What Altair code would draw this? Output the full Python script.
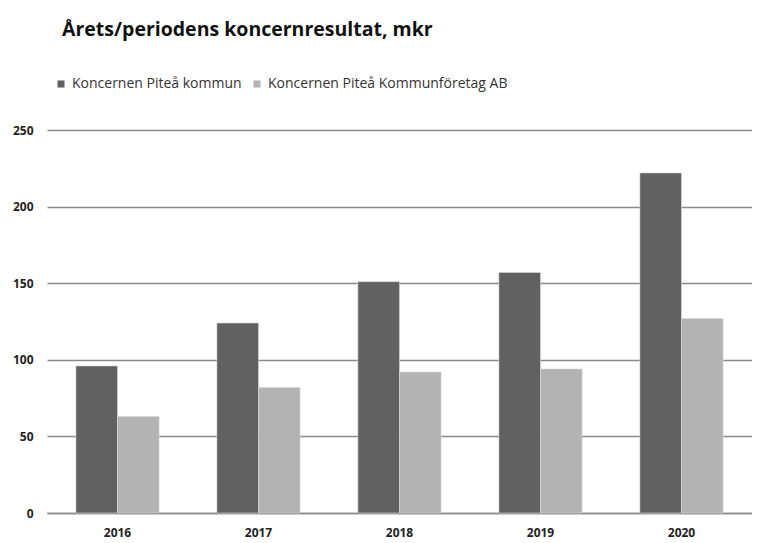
import altair as alt
import pandas as pd

years = ["2016", "2017", "2018", "2019", "2020"]
series_names = ["Koncernen Piteå kommun", "Koncernen Piteå Kommunföretag AB"]
kommun = [96, 124, 151, 157, 222]
foretag = [63, 82, 92, 94, 127]
y_ticks = [0, 50, 100, 150, 200, 250]

rows = []
for i, yr in enumerate(years):
    rows.append({"year": yr, "serie": series_names[0], "value": kommun[i]})
    rows.append({"year": yr, "serie": series_names[1], "value": foretag[i]})
df = pd.DataFrame(rows)

FONT = "Open Sans"

chart = alt.Chart(df).mark_bar(stroke="#d8d8d8", strokeWidth=0.6).encode(
    x=alt.X("year:N", sort=years, title=None,
            scale=alt.Scale(paddingInner=0.41, paddingOuter=0.205),
            axis=alt.Axis(labelAngle=0, labelPadding=14, ticks=False, domain=True,
                          domainColor="#8a8a8a", domainWidth=1.5,
                          labelFont=FONT, labelFontSize=12, labelFontWeight="bold",
                          labelColor="#222222")),
    xOffset=alt.XOffset("serie:N", sort=series_names),
    y=alt.Y("value:Q", title=None,
            scale=alt.Scale(domain=[0, 250], nice=False),
            axis=alt.Axis(values=y_ticks, ticks=False, domain=False, grid=True,
                          gridColor="#8a8a8a", gridWidth=1.5, labelPadding=14,
                          labelFont=FONT, labelFontSize=12, labelFontWeight="bold",
                          labelColor="#222222")),
    color=alt.Color("serie:N", sort=series_names,
                    scale=alt.Scale(domain=series_names, range=["#616161", "#b3b3b3"]),
                    legend=alt.Legend(title=None, orient="none", direction="horizontal",
                                      legendX=7, legendY=-53,
                                      symbolType="square", symbolSize=50,
                                      symbolStrokeWidth=0, labelLimit=0,
                                      labelFont=FONT, labelFontSize=14,
                                      labelColor="#333333", columnPadding=8,
                                      labelOffset=4)),
).properties(
    width=705,
    height=383,
    padding={"left": 39, "top": 122, "right": 0, "bottom": 28},
    autosize=alt.AutoSizeParams(type="none"),
    title=alt.TitleParams("Årets/periodens koncernresultat, mkr", anchor="start",
                          frame="group", dx=15, offset=37, font=FONT,
                          fontSize=19.5, fontWeight="bold", color="#111111"),
).configure_view(stroke=None)

chart.save("out.html", embed_options={"renderer": "svg", "actions": False})
